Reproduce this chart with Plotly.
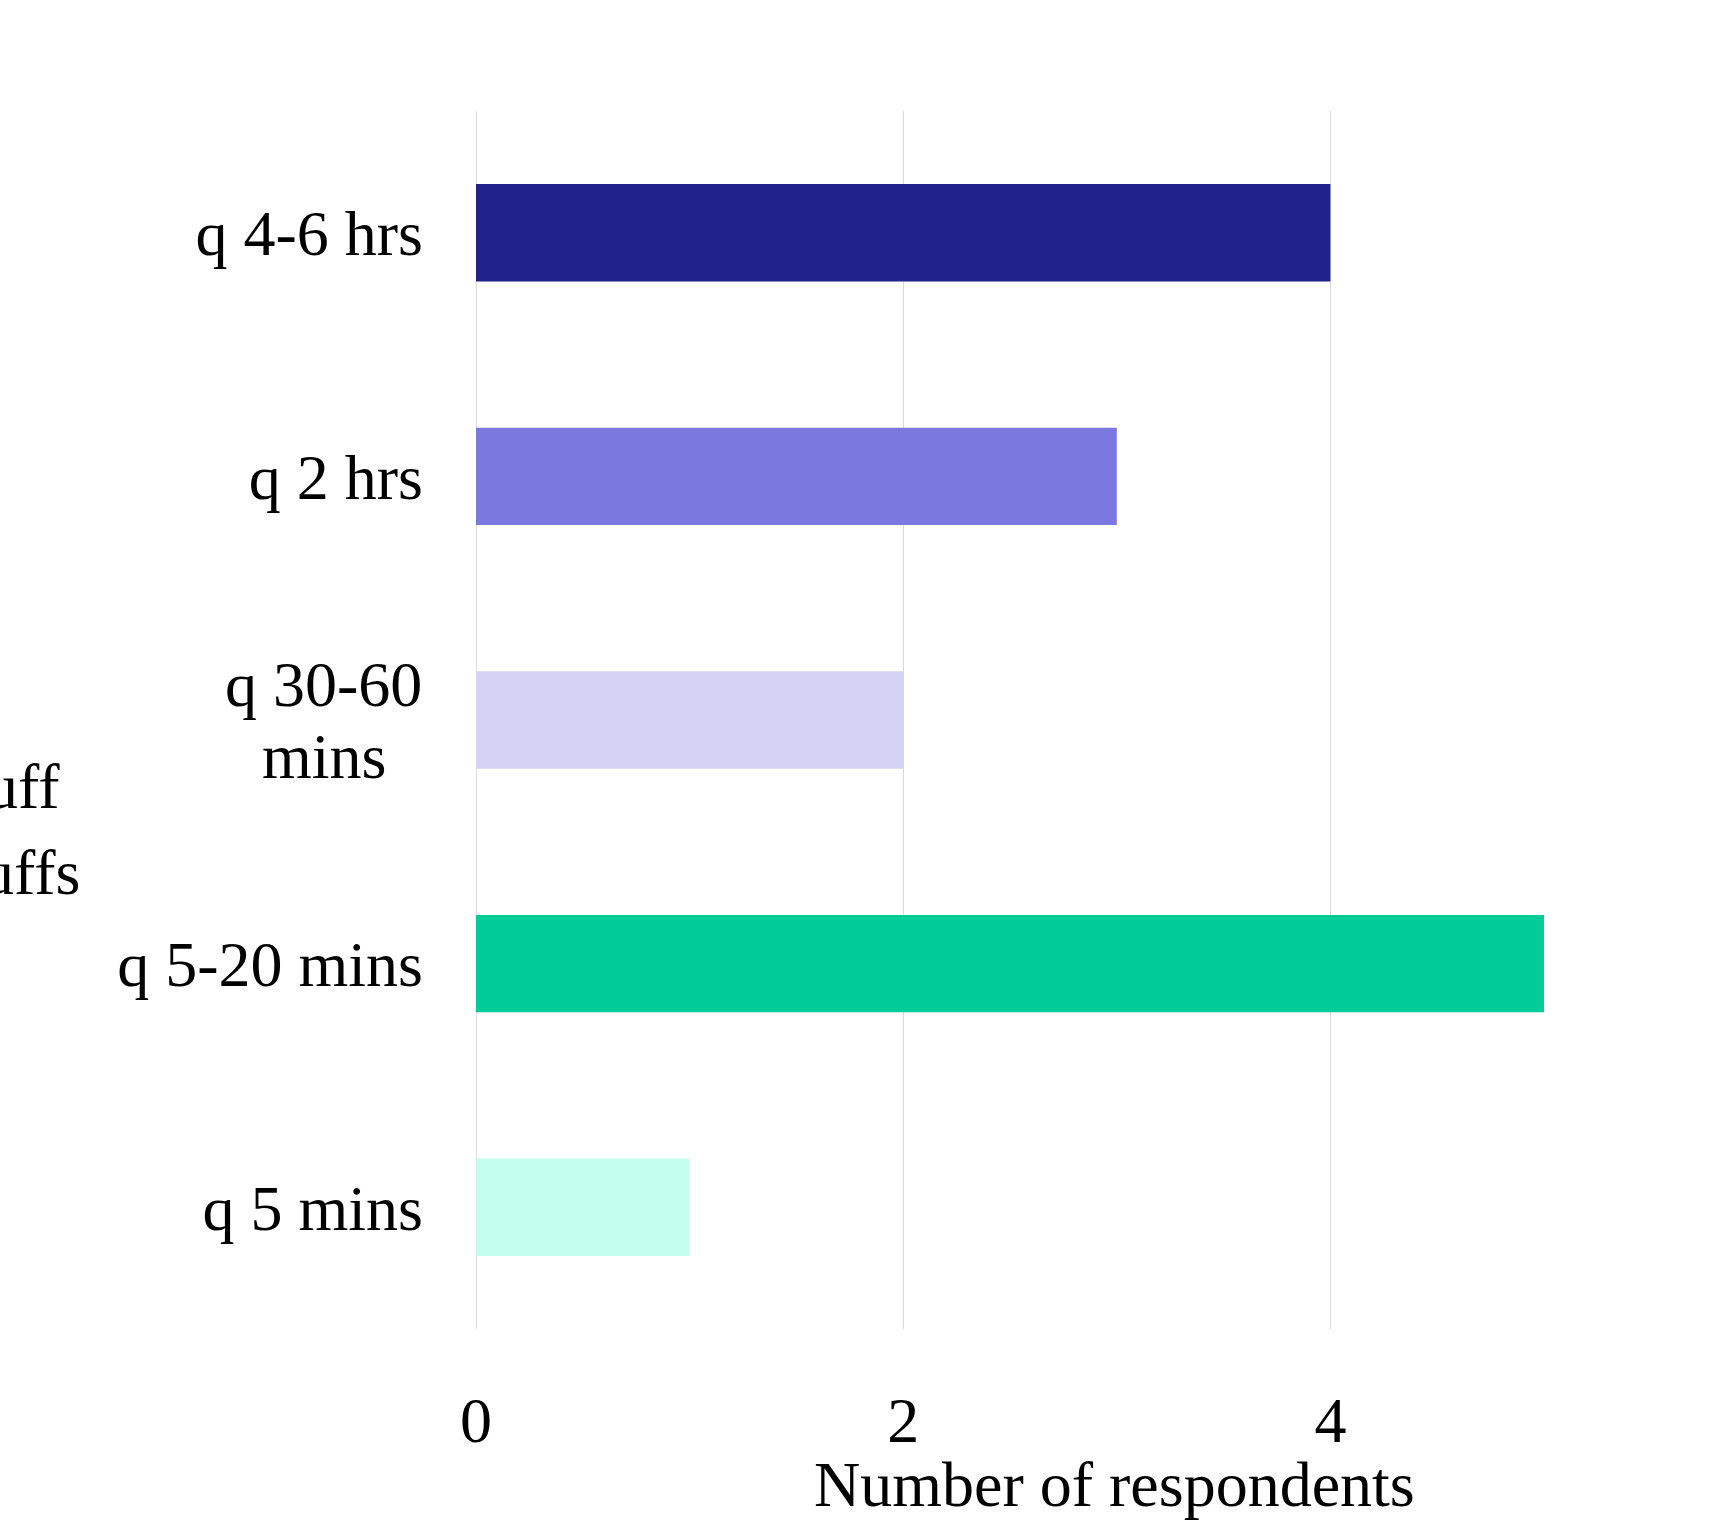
import plotly.graph_objects as go

categories = ["q 4-6 hrs", "q 2 hrs", "q 30-60 mins", "q 5-20 mins", "q 5 mins"]
values = [4, 3, 2, 5, 1]
bar_colors = ["#21228A", "#7B79DF", "#D4D3F3", "#00CC9A", "#C2FDEE"]
# tick label lines per category (wrapped labels get drawn line by line, centred)
tick_lines = [["q 4-6 hrs"], ["q 2 hrs"], ["q 30-60", "mins"], ["q 5-20 mins"], ["q 5 mins"]]
x_ticks = [0, 2, 4]
x_title = "Number of respondents"
legend_labels = ["1 puff", "2 puffs"]

FONT = "Liberation Serif, Times New Roman, serif"
FS = 64

fig = go.Figure()
fig.add_trace(go.Bar(
    x=values, y=categories, orientation="h",
    marker=dict(color=bar_colors, line=dict(width=0)),
    width=0.4, showlegend=False, hoverinfo="x+y",
))

single_ticktext = [lines[0] if len(lines) == 1 else "" for lines in tick_lines]

fig.update_layout(
    width=1722, height=1522,
    margin=dict(l=476, r=178, t=111, b=193, autoexpand=False),
    paper_bgcolor="white", plot_bgcolor="white",
    font=dict(family=FONT, size=FS, color="black"),
    showlegend=False,
)
fig.update_xaxes(
    range=[0, 5], tickvals=x_ticks, ticktext=[str(v) for v in x_ticks],
    showgrid=True, gridcolor="#D9D9D9", gridwidth=1,
    zeroline=True, zerolinecolor="#D9D9D9", zerolinewidth=1,
    showline=False, ticks="",
    ticklabelstandoff=48,
)
fig.update_yaxes(
    categoryorder="array", categoryarray=categories, autorange="reversed",
    tickvals=categories, ticktext=single_ticktext,
    showgrid=False, zeroline=False, showline=False, ticks="",
    ticklabelstandoff=52,
)

# multi-line category labels, centred, with tighter line spacing
for cat, lines in zip(categories, tick_lines):
    if len(lines) > 1:
        n = len(lines)
        for i, ln in enumerate(lines):
            fig.add_annotation(
                text=ln, xref="paper", yref="y", x=(323.5 - 476) / 1068, y=cat,
                xanchor="center", yanchor="middle", showarrow=False,
                yshift=36 * (n - 1) - 72 * i,
                font=dict(family=FONT, size=FS, color="black"),
            )

# x-axis title
fig.add_annotation(
    text=x_title, xref="paper", yref="paper", x=(1114 - 476) / 1068, y=-0.128,
    xanchor="center", yanchor="middle", showarrow=False,
    font=dict(family=FONT, size=FS, color="black"),
)
# partially visible legend entries at the left edge
fig.add_annotation(
    text=legend_labels[0], xref="paper", yref="paper", x=(62 - 476) / 1068, y=0.4458,
    xanchor="right", yanchor="middle", showarrow=False,
    font=dict(family=FONT, size=FS, color="black"),
)
fig.add_annotation(
    text=legend_labels[1], xref="paper", yref="paper", x=(82 - 476) / 1068, y=0.3744,
    xanchor="right", yanchor="middle", showarrow=False,
    font=dict(family=FONT, size=FS, color="black"),
)

fig.write_html("out.html")
